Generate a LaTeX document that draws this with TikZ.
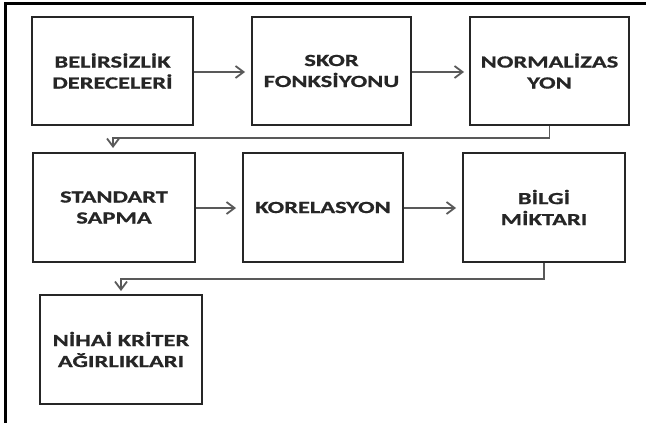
\documentclass[tikz,border=0pt]{standalone}
\usepackage{fontspec}
\setmainfont{Carlito}
\newfontfamily\boxfont[FakeStretch=1.44,FakeBold=0.8]{Carlito}
\usetikzlibrary{arrows.meta}
\tikzset{
  box/.style={draw=black!85, line width=1.4pt, fill=white, inner sep=0pt, align=center,
    font=\boxfont\bfseries\fontsize{17}{21}\selectfont, text=black!85},
  arr/.style={draw=black!65, line width=1.5pt, -{Straight Barb[length=8pt,width=12pt,line width=1.8pt]}},
  frameline/.style={draw=black, line width=3pt}
}
\begin{document}
\begin{tikzpicture}[x=1pt,y=-1pt]
\useasboundingbox (0,0) rectangle (646,423);
\draw[frameline] (646,3) -- (5.5,3) -- (5.5,423);
\node[box, minimum width=161pt, minimum height=108pt] (n1) at (112.5,71) {BELİRSİZLİK\\DERECELERİ};
\node[box, minimum width=159pt, minimum height=108pt] (n2) at (331.5,71) {SKOR\\FONKSİYONU};
\node[box, minimum width=159pt, minimum height=108pt] (n3) at (549.5,71) {NORMALİZAS\\YON};
\node[box, minimum width=162pt, minimum height=109pt] (n4) at (114,207.5) {STANDART\\SAPMA};
\node[box, minimum width=160pt, minimum height=109pt] (n5) at (323,207.5) {KORELASYON};
\node[box, minimum width=162pt, minimum height=109pt] (n6) at (544,207.5) {BİLGİ\\MİKTARI};
\node[box, minimum width=162pt, minimum height=109pt] (n7) at (121,349.5) {NİHAİ KRİTER\\AĞIRLIKLARI};
\coordinate (e1) at (245,72);
\coordinate (e2) at (464,72);
\coordinate (e4) at (236,208);
\coordinate (e5) at (456,208);
\coordinate (k1) at (113,138);
\coordinate (c1) at (113,148);
\coordinate (k2) at (121,279);
\coordinate (c2) at (121,291);
\draw[arr] (n1.east |- e1) -- (e1);
\draw[arr] (n2.east |- e2) -- (e2);
\draw[arr] (n4.east |- e4) -- (e4);
\draw[arr] (n5.east |- e5) -- (e5);
\draw[arr] (n3.south) |- (k1) -- (c1);
\draw[arr] (n6.south) |- (k2) -- (c2);
\end{tikzpicture}
\end{document}
